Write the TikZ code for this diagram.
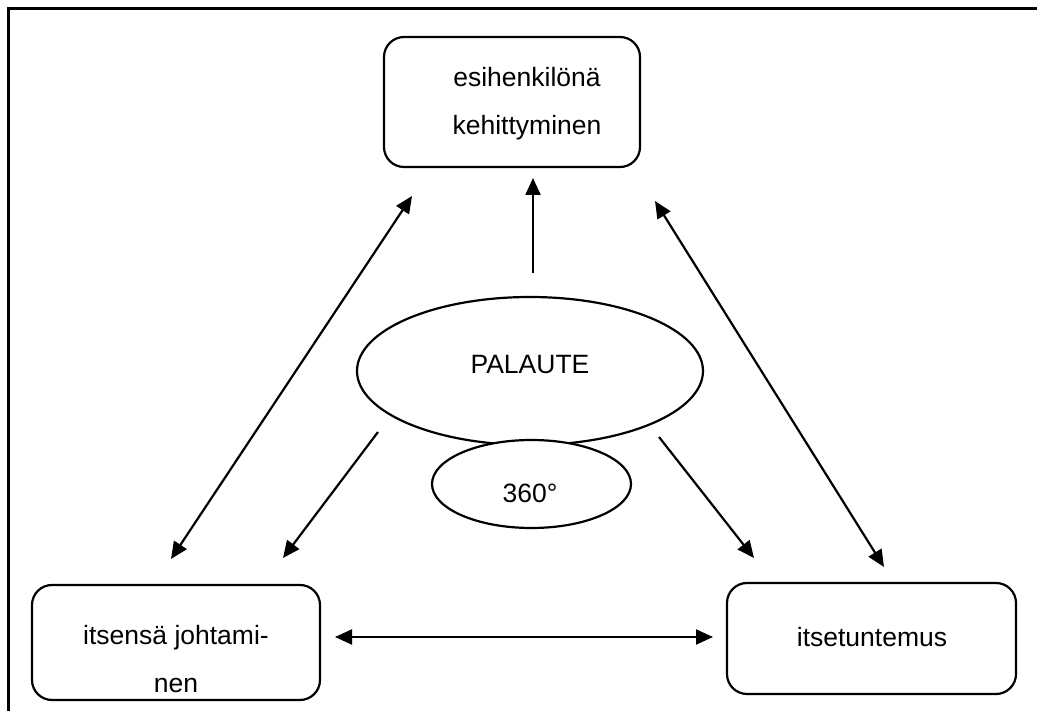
\documentclass[tikz,border=0pt]{standalone}
\usepackage{fontspec}
\setmainfont{Liberation Sans}
\usetikzlibrary{arrows.meta,shapes.geometric}
\begin{document}
\begin{tikzpicture}[x=1pt,y=-1pt,
  every node/.style={font=\fontsize{26.5}{48}\selectfont},
  box/.style={draw,line width=2.2pt,rounded corners=20pt,inner sep=0pt},
  oval/.style={draw,line width=2.2pt,ellipse,inner sep=0pt,fill=white},
  txt/.style={align=center,inner sep=0pt},
  tip/.style={},
  arr/.style={line width=2.2pt,-{Triangle[length=17pt,width=15pt]}},
  dbl/.style={line width=2.2pt,{Triangle[length=17pt,width=15pt]}-{Triangle[length=17pt,width=15pt]}}]
\useasboundingbox (0,0) rectangle (1037,711);
% frame
\draw[line width=2.8pt] (8.5,711) -- (8.5,8.5) -- (1037,8.5);
% boxes
\node[box,minimum width=256pt,minimum height=130pt] (top) at (512,102) {};
\node[txt] (toptxt) at (527,104) {esihenkilönä\\kehittyminen};
\node[box,minimum width=288pt,minimum height=115pt] (jo) at (176,642.5) {};
\node[txt] (jotxt) at (176,659) {itsensä johtami-\\nen};
\node[box,minimum width=289pt,minimum height=111pt] (it) at (871.5,638.5) {};
\node[txt] (ittxt) at (872,637) {itsetuntemus};
% ellipses
\node[oval,minimum width=346pt,minimum height=148pt] (pal) at (530,371) {};
\node[txt] (paltxt) at (530,365) {PALAUTE};
\node[oval,minimum width=199pt,minimum height=88pt] (deg) at (531.5,484) {};
\node[txt] (degtxt) at (530,493) {360°};
% arrow ends
\coordinate (v1) at (533,273);
\coordinate (v2) at (533,178);
\coordinate (l1) at (412,196);
\coordinate (l2) at (171,559);
\coordinate (m1) at (378,432);
\coordinate (m2) at (283,558);
\coordinate (n1) at (659,437);
\coordinate (n2) at (754,558);
\coordinate (r1) at (655,201);
\coordinate (r2) at (884,567);
\coordinate (h1) at (335,637);
\coordinate (h2) at (713,637);
% arrows
\draw[arr] (v1) -- (v2);
\draw[dbl] (l1) -- (l2);
\draw[arr] (m1) -- (m2);
\draw[arr] (n1) -- (n2);
\draw[dbl] (r1) -- (r2);
\draw[dbl] (h1) -- (h2);
\end{tikzpicture}
\end{document}
